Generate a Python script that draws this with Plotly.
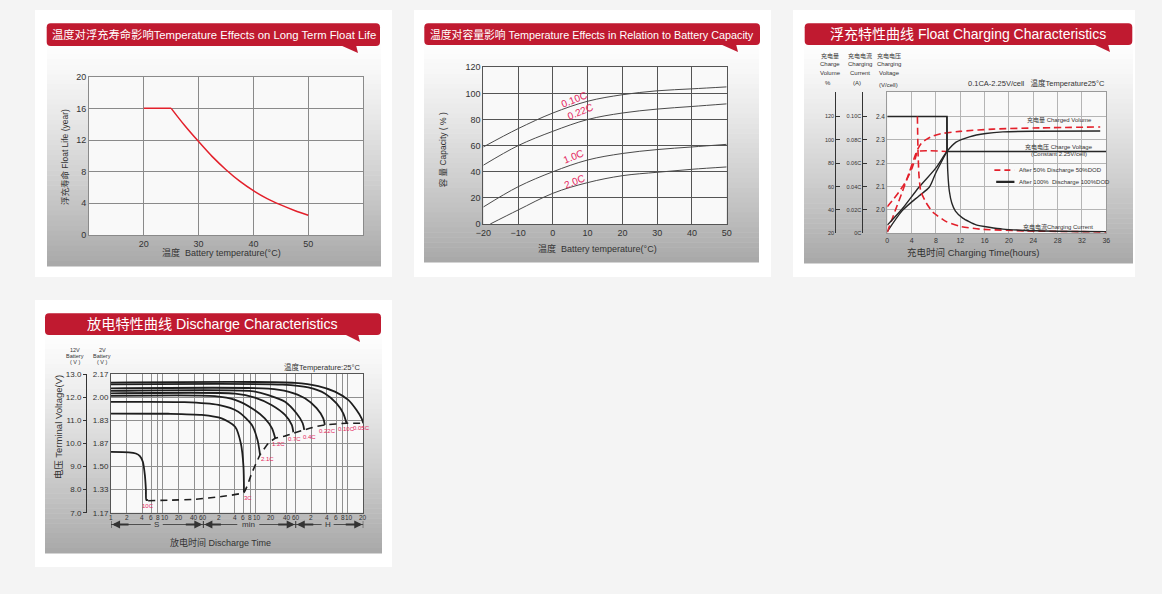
import math
import plotly.graph_objects as go

W, H = 1162, 594
FONT = "Liberation Sans, Arial, Noto Sans CJK SC, sans-serif"
HDR_RED = "#c01a30"
PINK = "#e4245c"
LINE_RED = "#e3202b"
DARK = "#262626"
TXT = "#333333"

# ---------------- Panel 1: float life vs temperature ----------------
life_temp = [20, 25, 27.5, 30, 32.5, 35, 37.5, 40, 42.5, 45, 47.5, 50]
life_years = [16, 16, 13.8, 11.8, 9.9, 8.25, 6.8, 5.6, 4.6, 3.8, 3.1, 2.5]
p1_xticks = [20, 30, 40, 50]
p1_yticks = [0, 4, 8, 12, 16, 20]

# ---------------- Panel 2: capacity vs temperature ----------------
cap_temp = [-20, -10, 0, 10, 20, 30, 40, 50]
cap_010C = [59, 73, 85, 94, 99, 102, 103.5, 105]
cap_022C = [45, 60, 71, 80, 85, 88, 90, 92]
cap_10C = [13, 28.5, 40, 49, 54, 57, 59, 61]
cap_temp_20C = [-18, -10, 0, 10, 20, 30, 40, 50]
cap_20C = [0, 10.7, 23.5, 31.7, 37, 39.6, 41.9, 43.7]
cap_labels = ["0.10C", "0.22C", "1.0C", "2.0C"]
cap_label_x = [6.2, 8.0, 5.9, 6.2]
cap_label_y = [95, 86, 51.5, 32.5]
p2_xticks = [-20, -10, 0, 10, 20, 30, 40, 50]
p2_yticks = [0, 20, 40, 60, 80, 100, 120]

# ---------------- Panel 3: float charging ----------------
# voltage (V/cell)
volt100_t = [0, 9.8, 9.8, 36]
volt100_v = [2.4, 2.4, 2.25, 2.25]
rise100_t = [0, 2.5, 5.2, 6.9, 8.0, 9.8]
rise100_v = [1.907, 1.998, 2.06, 2.097, 2.16, 2.25]
volt50_t = [0, 1, 2, 3, 4, 4.6, 5.0, 9.8]
volt50_v = [2.014, 2.045, 2.08, 2.12, 2.175, 2.22, 2.25, 2.25]
# charged volume (%)
vol100_t = [0, 2.5, 5.2, 8.0, 9.8, 11.3, 13.5, 16.2, 19, 24.5, 35]
vol100_pct = [27, 41.2, 59.4, 76, 90, 98, 102.6, 105.4, 106.8, 107.4, 107.6]
vol50_t = [0, 1.2, 2.5, 3.6, 4.4, 5.0, 5.6, 6.5, 7.5, 9, 11.9, 17.4, 25, 35]
vol50_pct = [21, 38, 56, 72, 84, 92, 97, 100.6, 103.2, 105.4, 107.2, 109.2, 110.2, 111]
# charging current (C)
cur50_t = [4.95, 5.05, 5.2, 5.5, 6.4, 7.5, 9.7, 11.9, 15.2, 22.8, 36]
cur50_c = [0.1, 0.07, 0.05, 0.036, 0.026, 0.018, 0.010, 0.006, 0.0036, 0.002, 0.0012]
cur100_t = [9.8, 9.85, 9.95, 10.2, 10.6, 11.2, 12.4, 14.6, 19, 24.5, 36]
cur100_c = [0.1, 0.07, 0.052, 0.036, 0.026, 0.019, 0.013, 0.0072, 0.0036, 0.0022, 0.0014]
p3_xticks = [0, 4, 8, 12, 16, 20, 24, 28, 32, 36]
p3_vticks = [2.0, 2.1, 2.2, 2.3, 2.4]
p3_vtext = ["2.0", "2.1", "2.2", "2.3", "2.4"]
p3_pct_ticks = [20, 40, 60, 80, 100, 120]
p3_cur_ticks = [0, 0.02, 0.04, 0.06, 0.08, 0.10]
p3_cur_text = ["0C", "0.02C", "0.04C", "0.06C", "0.08C", "0.10C"]

# ---------------- Panel 4: discharge characteristics ----------------
# time in seconds, voltage for a 12 V battery
dis_rates = ["0.05C", "0.10C", "0.22C", "0.4C", "0.7C", "1.2C", "2.1C", "3C", "10C"]
dis_t = [
    [1, 3470, 9770, 20400, 36900, 53300, 66700, 72000],
    [1, 2000, 6270, 13100, 22000, 29600, 34300],
    [1, 1070, 2570, 5410, 9080, 12200, 13100],
    [1, 513, 1070, 2240, 3720, 4900, 5250],
    [1, 245, 589, 1230, 2240, 3020, 3240],
    [1, 100, 245, 513, 912, 1260, 1450],
    [1, 26, 117, 282, 513, 661, 741],
    [1, 12.6, 55.6, 135, 245, 316, 355, 363],
    [1, 2.2, 3.0, 3.6, 4.1, 4.5, 4.7, 4.8, 5.2],
]
dis_v = [
    [12.63, 12.62, 12.48, 12.24, 11.88, 11.44, 11.08, 10.87],
    [12.55, 12.54, 12.42, 12.16, 11.73, 11.30, 10.87],
    [12.38, 12.37, 12.24, 11.95, 11.52, 11.08, 10.80],
    [12.27, 12.26, 12.09, 11.80, 11.30, 10.87, 10.58],
    [12.16, 12.15, 11.98, 11.66, 11.23, 10.80, 10.48],
    [12.05, 12.04, 11.88, 11.52, 11.08, 10.65, 10.22],
    [11.79, 11.78, 11.66, 11.37, 10.80, 10.15, 9.50],
    [11.29, 11.28, 11.23, 11.08, 10.72, 10.0, 9.0, 7.88],
    [9.63, 9.61, 9.56, 9.45, 9.2, 8.6, 8.0, 7.55, 7.55],
]
end_t = [5.2, 12.6, 41.7, 135, 363, 513, 741, 1070, 1450, 2240, 3240, 5250, 8510, 13200, 34300, 72000]
end_v = [7.52, 7.54, 7.58, 7.70, 7.88, 8.71, 9.50, 10.0, 10.22, 10.32, 10.44, 10.58, 10.72, 10.80, 10.87, 10.87]
dis_label_t = [66000, 34300, 14800, 6760, 3390, 1660, 1023, 437, 5.2]
dis_label_v = [10.65, 10.61, 10.55, 10.29, 10.18, 9.97, 9.31, 7.63, 7.29]
p4_xticks = [1, 2, 4, 6, 8, 10, 20, 40, 60, 120, 240, 360, 480, 600, 1200, 2400, 3600,
             7200, 14400, 21600, 28800, 36000, 72000]
p4_xtext = ["1", "2", "4", "6", "8", "10", "20", "40", "60", "2", "4", "6", "8", "10", "20", "40", "60",
            "2", "4", "6", "8", "10", "20"]
p4_yticks = [7, 8, 9, 10, 11, 12, 13]
p4_12v_text = ["7.0", "8.0", "9.0", "10.0", "11.0", "12.0", "13.0"]
p4_2v_text = ["1.17", "1.33", "1.50", "1.87", "1.83", "2.00", "2.17"]
p4_units = ["S", "min", "H"]
p4_unit_bounds = [1, 60, 3600, 72000]
p4_unit_centers = [7.6, 440, 14800]


def fx(x):
    return x / W


def fy(y):
    return 1 - y / H


fig = go.Figure()
shapes = []
annots = []


def rect(x0, y0, x1, y1, color):
    shapes.append(dict(type="rect", xref="paper", yref="paper", x0=fx(x0), x1=fx(x1),
                       y0=fy(y1), y1=fy(y0), fillcolor=color, line=dict(width=0), layer="below"))


def gradient(x0, y0, x1, y1, n=44):
    h = (y1 - y0) / n
    for i in range(n):
        f = (i + 0.5) / n
        g = int(round(253 - 85 * f ** 1.25))
        rect(x0, y0 + i * h, x1, y0 + (i + 1) * h + 0.6, "rgb(%d,%d,%d)" % (g, g, g))


def header(x0, y0, x1, y1, tri, text, size, cx):
    r = 4
    pts = lambda x, y: "%.5f,%.5f" % (fx(x), fy(y))
    path = ("M" + pts(x0 + r, y0) + " L" + pts(x1 - r, y0) + " Q" + pts(x1, y0) + " " + pts(x1, y0 + r) +
            " L" + pts(x1, y1 - r) + " Q" + pts(x1, y1) + " " + pts(x1 - r, y1) +
            " L" + pts(x0 + r, y1) + " Q" + pts(x0, y1) + " " + pts(x0, y1 - r) +
            " L" + pts(x0, y0 + r) + " Q" + pts(x0, y0) + " " + pts(x0 + r, y0) + " Z")
    shapes.append(dict(type="path", xref="paper", yref="paper", path=path, fillcolor=HDR_RED,
                       line=dict(width=0), layer="below"))
    tp = "M" + pts(*tri[0]) + " L" + pts(*tri[1]) + " L" + pts(*tri[2]) + " Z"
    shapes.append(dict(type="path", xref="paper", yref="paper", path=tp, fillcolor=HDR_RED,
                       line=dict(width=0), layer="below"))
    annots.append(dict(xref="paper", yref="paper", x=fx(cx), y=fy((y0 + y1) / 2), text=text,
                       showarrow=False, font=dict(size=size, color="white", family=FONT),
                       xanchor="center", yanchor="middle"))


def ptext(x, y, text, size=8, color=TXT, xanchor="center", angle=0):
    annots.append(dict(xref="paper", yref="paper", x=fx(x), y=fy(y), text=text, showarrow=False,
                       font=dict(size=size, color=color, family=FONT), xanchor=xanchor,
                       yanchor="middle", textangle=angle))


# cards and gradient panels
rect(35, 10, 392, 277, "white")
rect(414, 10, 771, 277, "white")
rect(793, 10, 1135, 277, "white")
rect(35, 300, 392, 567, "white")
gradient(47, 44, 381, 266)
gradient(424, 44, 759, 262)
gradient(804, 44, 1133, 263)
gradient(45, 334, 382, 553)

# plot-area fills
for xa, ya in [("x", "y"), ("x2", "y2"), ("x3", "y3"), ("x4", "y6")]:
    shapes.append(dict(type="rect", xref=xa + " domain", yref=ya + " domain", x0=0, x1=1, y0=0, y1=1,
                       fillcolor="#f9f9f9", line=dict(width=0), layer="below"))

header(46.7, 23.3, 380, 46, [(340, 45), (356, 45), (358, 53)],
       "温度对浮充寿命影响Temperature Effects on Long Term Float Life", 11.3, 214)
header(424.3, 23.3, 760, 45, [(720, 44), (736, 44), (738, 52)],
       "温度对容量影响 Temperature Effects in Relation to Battery Capacity", 10.8, 592)
header(804.7, 23.3, 1132.3, 45, [(1093, 44), (1108, 44), (1110, 52)],
       "浮充特性曲线 Float Charging Characteristics", 14, 968)
header(45, 313.3, 381, 335, [(344, 334), (358, 334), (360, 342)],
       "放电特性曲线 Discharge Characteristics", 14.2, 213)

# ---------------- traces ----------------
# Panel 1 (flat part, then the decline)
fig.add_trace(go.Scatter(x=life_temp[:2], y=life_years[:2], mode="lines", xaxis="x", yaxis="y",
                         line=dict(color=LINE_RED, width=1.5), showlegend=False, hoverinfo="skip"))
fig.add_trace(go.Scatter(x=life_temp[1:], y=life_years[1:], mode="lines", xaxis="x", yaxis="y",
                         line=dict(color=LINE_RED, width=1.5, shape="spline", smoothing=1.0),
                         showlegend=False, hoverinfo="skip"))
# Panel 2
for xs, ys in [(cap_temp, cap_010C), (cap_temp, cap_022C), (cap_temp, cap_10C), (cap_temp_20C, cap_20C)]:
    fig.add_trace(go.Scatter(x=xs, y=ys, mode="lines", xaxis="x2", yaxis="y2",
                             line=dict(color="#4a4a4a", width=1, shape="spline", smoothing=1.0),
                             showlegend=False, hoverinfo="skip"))
for lab, lx, ly in zip(cap_labels, cap_label_x, cap_label_y):
    annots.append(dict(xref="x2", yref="y2", x=lx, y=ly, text=lab, showarrow=False, textangle=-22,
                       font=dict(size=10, color=PINK, family=FONT)))

# Panel 3
RD = "7px,4px"
fig.add_trace(go.Scatter(x=volt50_t, y=volt50_v, mode="lines", xaxis="x3", yaxis="y3",
                         line=dict(color=LINE_RED, width=1.6, dash=RD, shape="spline", smoothing=0.5),
                         showlegend=False, hoverinfo="skip"))
fig.add_trace(go.Scatter(x=vol50_t, y=vol50_pct, mode="lines", xaxis="x3", yaxis="y4",
                         line=dict(color=LINE_RED, width=1.6, dash=RD, shape="spline", smoothing=0.8),
                         showlegend=False, hoverinfo="skip"))
fig.add_trace(go.Scatter(x=cur50_t, y=cur50_c, mode="lines", xaxis="x3", yaxis="y5",
                         line=dict(color=LINE_RED, width=1.6, dash=RD, shape="spline", smoothing=0.5),
                         showlegend=False, hoverinfo="skip"))
fig.add_trace(go.Scatter(x=volt100_t, y=volt100_v, mode="lines", xaxis="x3", yaxis="y3",
                         line=dict(color=DARK, width=1.6), showlegend=False, hoverinfo="skip"))
fig.add_trace(go.Scatter(x=rise100_t, y=rise100_v, mode="lines", xaxis="x3", yaxis="y3",
                         line=dict(color=DARK, width=1.4, shape="spline", smoothing=0.8),
                         showlegend=False, hoverinfo="skip"))
fig.add_trace(go.Scatter(x=vol100_t, y=vol100_pct, mode="lines", xaxis="x3", yaxis="y4",
                         line=dict(color=DARK, width=1.4, shape="spline", smoothing=0.8),
                         showlegend=False, hoverinfo="skip"))
fig.add_trace(go.Scatter(x=cur100_t, y=cur100_c, mode="lines", xaxis="x3", yaxis="y5",
                         line=dict(color=DARK, width=1.4, shape="spline", smoothing=0.5),
                         showlegend=False, hoverinfo="skip"))
# legend samples + texts
shapes.append(dict(type="line", xref="x3", yref="y3", x0=17.6, x1=20.9, y0=2.17, y1=2.17,
                   line=dict(color=LINE_RED, width=1.8, dash="6px,4px")))
shapes.append(dict(type="line", xref="x3", yref="y3", x0=17.9, x1=20.9, y0=2.12, y1=2.12,
                   line=dict(color=DARK, width=2.2)))
for tx, ty, tt, anc in [(21.3, 2.17, "After 50% Discharge 50%DOD", "left"),
                        (21.3, 2.12, "After 100%  Discharge 100%DOD", "left"),
                        (28.3, 2.386, "充电量 Charged Volume", "center"),
                        (28.2, 2.27, "充电电压 Charge Voltage", "center"),
                        (28.2, 2.238, "(Constant 2.25V/cell)", "center"),
                        (28.0, 1.925, "充电电流Charging Current", "center")]:
    annots.append(dict(xref="x3", yref="y3", x=tx, y=ty, text=tt, showarrow=False, xanchor=anc,
                       font=dict(size=6, color=TXT, family=FONT)))

# Panel 4 (data on the 12 V axis y7, 2 V labels on y6)
for ts, vs in zip(dis_t, dis_v):
    fig.add_trace(go.Scatter(x=ts, y=vs, mode="lines", xaxis="x4", yaxis="y7",
                             line=dict(color="#1e1e1e", width=1.8, shape="spline", smoothing=0.7),
                             showlegend=False, hoverinfo="skip"))
fig.add_trace(go.Scatter(x=end_t, y=end_v, mode="lines", xaxis="x4", yaxis="y7",
                         line=dict(color="#1e1e1e", width=1.6, dash="7px,5px", shape="spline", smoothing=0.4),
                         showlegend=False, hoverinfo="skip"))
for lab, lt, lv in zip(dis_rates, dis_label_t, dis_label_v):
    annots.append(dict(xref="x4", yref="y6", x=math.log10(lt), y=lv, text=lab, showarrow=False,
                       font=dict(size=6, color=PINK, family=FONT)))

# x tick labels of the discharge chart (drawn as text so crowded ones can be nudged)
nudge = {"8": 0.0, "10": 1.6, "6": -0.6}
for tv, tt in zip(p4_xticks, p4_xtext):
    annots.append(dict(xref="x4", yref="paper", x=math.log10(tv), y=fy(517), text=tt, showarrow=False,
                       xshift=nudge.get(tt, 0), yanchor="middle",
                       font=dict(size=6.5, color=TXT, family=FONT)))

# S / min / H row under the discharge axis
row_y = fy(524.5)
for b in p4_unit_bounds:
    shapes.append(dict(type="line", xref="x4", yref="paper", x0=b, x1=b, y0=fy(521), y1=fy(528),
                       line=dict(color=TXT, width=1)))
gaps = [6, 11, 6]
for i, (u, c) in enumerate(zip(p4_units, p4_unit_centers)):
    a, b = p4_unit_bounds[i], p4_unit_bounds[i + 1]
    lc = math.log10(c)
    g = gaps[i] / 51.95
    shapes.append(dict(type="line", xref="x4", yref="paper", x0=a, x1=10 ** (lc - g), y0=row_y, y1=row_y,
                       line=dict(color=TXT, width=0.8)))
    shapes.append(dict(type="line", xref="x4", yref="paper", x0=10 ** (lc + g), x1=b, y0=row_y, y1=row_y,
                       line=dict(color=TXT, width=0.8)))
    annots.append(dict(xref="x4", yref="paper", x=lc, y=row_y, text=u, showarrow=False,
                       font=dict(size=8, color=TXT, family=FONT), yanchor="middle"))
    annots.append(dict(xref="x4", yref="paper", x=math.log10(a) + 0.02, y=row_y, ax=18, ay=0,
                       text="", showarrow=True, arrowhead=2, arrowsize=0.8, arrowwidth=2, arrowcolor=TXT))
    annots.append(dict(xref="x4", yref="paper", x=math.log10(b) - 0.02, y=row_y, ax=-18, ay=0,
                       text="", showarrow=True, arrowhead=2, arrowsize=0.8, arrowwidth=2, arrowcolor=TXT))

# ---------------- text ----------------
ptext(64.3, 156.7, "浮充寿命 Float Life (year)", 8.5, angle=-90)
ptext(221.7, 252.7, "温度  Battery temperature(°C)", 9)
ptext(443.3, 150, "容 量 Capacity ( % )", 8.5, angle=-90)
ptext(597.7, 249, "温度  Battery temperature(°C)", 9)
ptext(973, 252.3, "充电时间 Charging Time(hours)", 9.5)
ptext(1107, 83.3, "0.1CA-2.25V/cell   温度Temperature25°C", 7.5, xanchor="right")
for cx, l1, l2, l3 in [(830, "充电量", "Charge", "Volume"), (860, "充电电流", "Charging", "Current"),
                       (889, "充电电压", "Charging", "Voltage")]:
    ptext(cx, 55.7, l1, 6)
    ptext(cx, 63.8, l2, 6)
    ptext(cx, 72.5, l3, 6)
ptext(828, 82.7, "%", 6)
ptext(857, 82.7, "(A)", 6)
ptext(888, 84.5, "(V/cell)", 6)
ptext(220, 542.7, "放电时间 Discharge Time", 9)
ptext(58.3, 427, "电压 Terminal Voltage(V)", 9.5, angle=-90)
ptext(363, 366.7, "温度Temperature:25°C", 7.5, xanchor="right")
for cx, l1 in [(75, "12V"), (102, "2V")]:
    ptext(cx, 350, l1, 5.5)
    ptext(cx, 356.3, "Battery", 5.5)
    ptext(cx, 362.3, "( V )", 5.5)

tf = lambda s: dict(size=s, color=TXT, family=FONT)
GR1 = "#8a8a8a"
common = dict(automargin=False, zeroline=False)
fig.update_layout(
    template="none",
    width=W, height=H, margin=dict(l=0, r=0, t=0, b=0, pad=0), autosize=False,
    paper_bgcolor="#f4f4f4", plot_bgcolor="rgba(0,0,0,0)", showlegend=False,
    font=dict(family=FONT, color=TXT),
    xaxis=dict(domain=[fx(89), fx(363)], anchor="y", range=[10, 60], tickvals=p1_xticks,
               showgrid=True, gridcolor=GR1, showline=True, mirror=True, linecolor=GR1,
               ticks="", tickfont=tf(9), **common),
    yaxis=dict(domain=[fy(235), fy(76.7)], anchor="x", range=[0, 20], tickvals=p1_yticks,
               showgrid=True, gridcolor=GR1, showline=True, mirror=True, linecolor=GR1,
               ticks="", tickfont=tf(9), **common),
    xaxis2=dict(domain=[fx(483.3), fx(726.7)], anchor="y2", range=[-20, 50], tickvals=p2_xticks,
                showgrid=True, gridcolor="#555555", showline=True, mirror=True, linecolor="#555555",
                ticks="", tickfont=tf(9), **common),
    yaxis2=dict(domain=[fy(224), fy(67.3)], anchor="x2", range=[0, 120], tickvals=p2_yticks,
                showgrid=True, gridcolor="#555555", showline=True, mirror=True, linecolor="#555555",
                ticks="", tickfont=tf(9), **common),
    xaxis3=dict(domain=[fx(887.3), fx(1106.3)], anchor="y3", range=[0, 36], tickvals=p3_xticks,
                showgrid=True, gridcolor="#b5b5b5", showline=True, mirror=True, linecolor="#9a9a9a",
                ticks="", tickfont=tf(7), **common),
    yaxis3=dict(domain=[fy(233.3), fy(91.7)], anchor="x3", range=[1.9, 2.506], tickvals=p3_vticks,
                ticktext=p3_vtext, showgrid=True, gridcolor="#b5b5b5", showline=True, mirror=True,
                linecolor="#9a9a9a", ticks="", tickfont=tf(6.5), **common),
    yaxis4=dict(overlaying="y3", anchor="free", position=fx(835.3), side="left", range=[20, 141.2],
                tickvals=p3_pct_ticks, showgrid=False, showline=True, linecolor="#333",
                ticks="inside", ticklen=4, tickcolor="#333", tickfont=tf(5.5), **common),
    yaxis5=dict(overlaying="y3", anchor="free", position=fx(862.3), side="left", range=[0, 0.1212],
                tickvals=p3_cur_ticks, ticktext=p3_cur_text, showgrid=False,
                showline=True, linecolor="#333", ticks="inside", ticklen=4, tickcolor="#333",
                tickfont=tf(5.5), **common),
    xaxis4=dict(domain=[fx(111), fx(363.3)], anchor="y6", type="log", range=[0, math.log10(72000)],
                tickvals=p4_xticks, showticklabels=False, showgrid=True, gridcolor="#909090",
                showline=True, mirror=True, linecolor="#555", ticks="", **common),
    yaxis6=dict(domain=[fy(512.7), fy(374)], anchor="x4", range=[7, 13], tickvals=p4_yticks,
                ticktext=p4_2v_text, showgrid=True, gridcolor="#909090", showline=True, mirror=True,
                linecolor="#555", ticks="", tickfont=tf(8), **common),
    yaxis7=dict(overlaying="y6", anchor="free", position=fx(86), side="left", range=[7, 13],
                tickvals=p4_yticks, ticktext=p4_12v_text, showgrid=False,
                showline=True, linecolor="#333", ticks="outside", ticklen=3, tickcolor="#333",
                tickfont=tf(8), **common),
    shapes=shapes, annotations=annots,
)

fig.write_html("out.html", config={"displayModeBar": False},
               post_script="document.body.style.margin='0';document.body.style.overflow='hidden';")
